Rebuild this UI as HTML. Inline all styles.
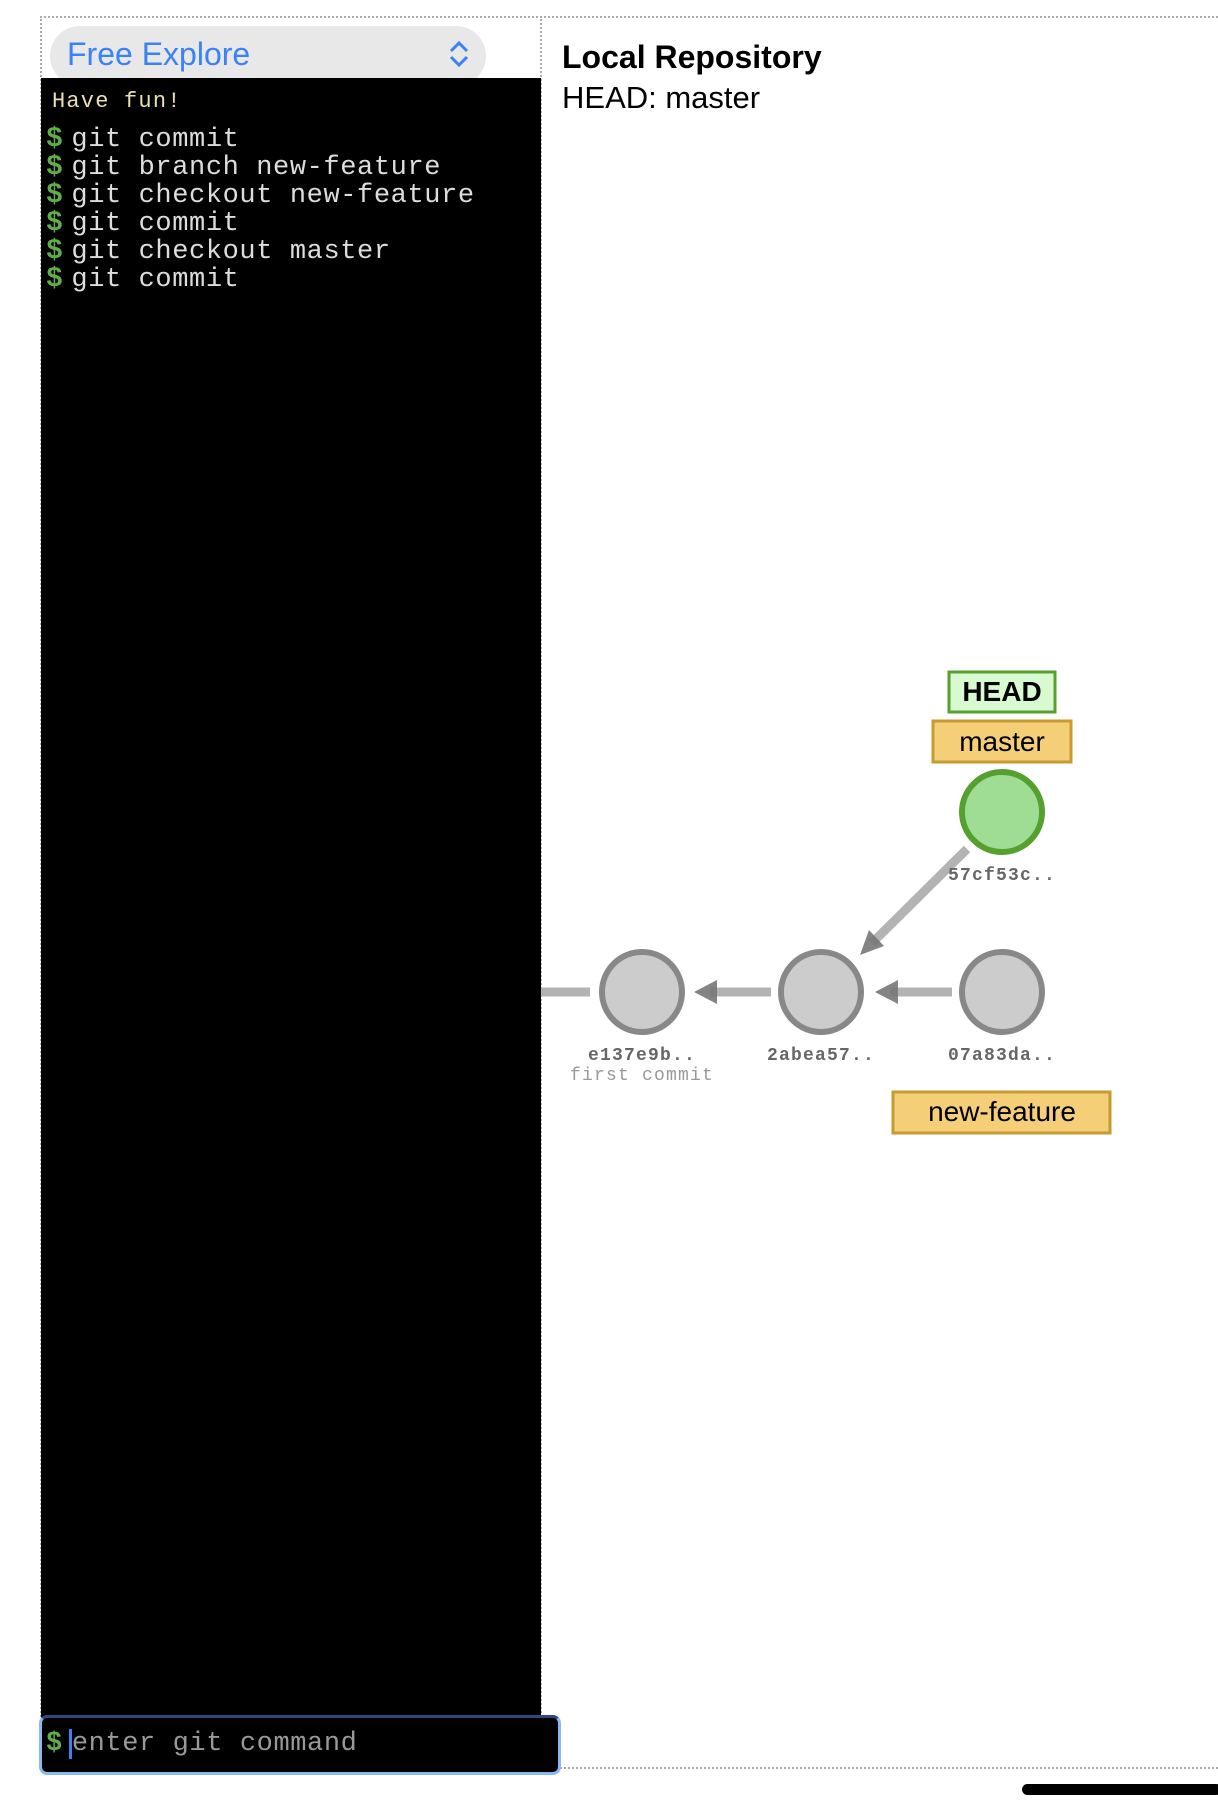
<!DOCTYPE html>
<html><head><style>
body{margin:0;width:1218px;height:1810px;background:#fff;position:relative;overflow:hidden;font-family:"Liberation Sans",sans-serif}
.a{position:absolute}
.mono{font-family:"Liberation Mono",monospace}
.cmd{position:absolute;left:46px;font-size:27px;color:#ddd;line-height:28px;white-space:pre;letter-spacing:0.6px}
.cmd b{color:#5fae4b;font-weight:bold;font-size:28px;margin-right:8px}
</style></head><body>
<div class="a" style="left:40px;top:16px;width:1178px;height:1753px;border-top:2px dotted #aaa;border-left:2px dotted #aaa;border-bottom:2px dotted #aaa;box-sizing:border-box"></div>
<div class="a" style="left:540px;top:16px;height:1753px;border-left:2px dotted #aaa"></div>
<div class="a" style="left:50px;top:26px;width:436px;height:60px;border-radius:30px;background:#e8e8e8"></div>
<div class="a" style="left:67px;top:36px;font-size:32px;color:#3b82f6">Free Explore</div>
<svg class="a" style="left:448px;top:40px" width="22" height="28"><path d="M3 11 L11 3 L19 11 M3 17 L11 25 L19 17" fill="none" stroke="#3b82f6" stroke-width="3"/></svg>
<div class="a" style="left:41px;top:78px;width:500px;height:1691px;background:#000"></div>
<div class="a mono" style="left:52px;top:89px;font-size:22px;letter-spacing:1.2px;color:#e8e0b0">Have fun!</div>
<div class="cmd mono" style="top:126px"><b>$</b>git commit</div>
<div class="cmd mono" style="top:154px"><b>$</b>git branch new-feature</div>
<div class="cmd mono" style="top:182px"><b>$</b>git checkout new-feature</div>
<div class="cmd mono" style="top:210px"><b>$</b>git commit</div>
<div class="cmd mono" style="top:238px"><b>$</b>git checkout master</div>
<div class="cmd mono" style="top:266px"><b>$</b>git commit</div>
<div class="a" style="left:39px;top:1715px;width:516px;height:54px;border:3px solid #8ab8f5;border-top-color:#2a4a80;border-radius:8px;background:#000;box-sizing:content-box"></div>
<div class="a mono" style="left:46px;top:1729px;font-size:27px;letter-spacing:0.6px;color:#999;white-space:pre"><b style="color:#5fae4b;margin-right:6px">$</b><span style="border-left:3px solid #3b82f6"></span>enter git command</div>
<div class="a" style="left:1022px;top:1784px;width:200px;height:11px;border-radius:6px;background:#000"></div>
<div class="a" style="left:562px;top:39px;font-size:32px;font-weight:bold">Local Repository</div>
<div class="a" style="left:562px;top:80px;font-size:31px">HEAD: master</div>
<svg class="a" style="left:0;top:0" width="1218" height="1810">
<g stroke="#b3b3b3" stroke-width="9" fill="none">
<line x1="541" y1="992" x2="590" y2="992"/>
<line x1="771" y1="992" x2="710" y2="992"/>
<line x1="952" y1="992" x2="890" y2="992"/>
<line x1="967" y1="849" x2="872" y2="943"/>
</g>
<g fill="#777" opacity="0.9">
<polygon points="694,992 717,980 717,1004"/>
<polygon points="875,992 898,980 898,1004"/>
<polygon points="860,955 869,930 884,946"/>
</g>
<g stroke="#888" stroke-width="6" fill="#ccc">
<circle cx="642" cy="992" r="40"/><circle cx="821" cy="992" r="40"/><circle cx="1002" cy="992" r="40"/>
</g>
<circle cx="1002" cy="812" r="40" fill="#a0dd94" stroke="#55a02f" stroke-width="6"/>
<g font-family="Liberation Mono,monospace" font-size="18" letter-spacing="1.2" fill="#666" text-anchor="middle" font-weight="bold">
<text x="642" y="1060">e137e9b..</text><text x="821" y="1060">2abea57..</text><text x="1002" y="1060">07a83da..</text><text x="1002" y="880">57cf53c..</text>
</g>
<text x="642" y="1080" font-family="Liberation Mono,monospace" font-size="18" letter-spacing="1.2" fill="#999" text-anchor="middle">first commit</text>
<rect x="949" y="672" width="106" height="40" fill="#d8fad0" stroke="#55a02f" stroke-width="3"/>
<text x="1002" y="701" font-size="28" font-weight="bold" text-anchor="middle" font-family="Liberation Sans,sans-serif">HEAD</text>
<rect x="933" y="721" width="138" height="41" fill="#f5cf78" stroke="#c99a30" stroke-width="3"/>
<text x="1002" y="751" font-size="28" text-anchor="middle" font-family="Liberation Sans,sans-serif">master</text>
<rect x="893" y="1092" width="217" height="41" fill="#f5cf78" stroke="#c99a30" stroke-width="3"/>
<text x="1002" y="1121" font-size="28" text-anchor="middle" font-family="Liberation Sans,sans-serif">new-feature</text>
</svg>
</body></html>
